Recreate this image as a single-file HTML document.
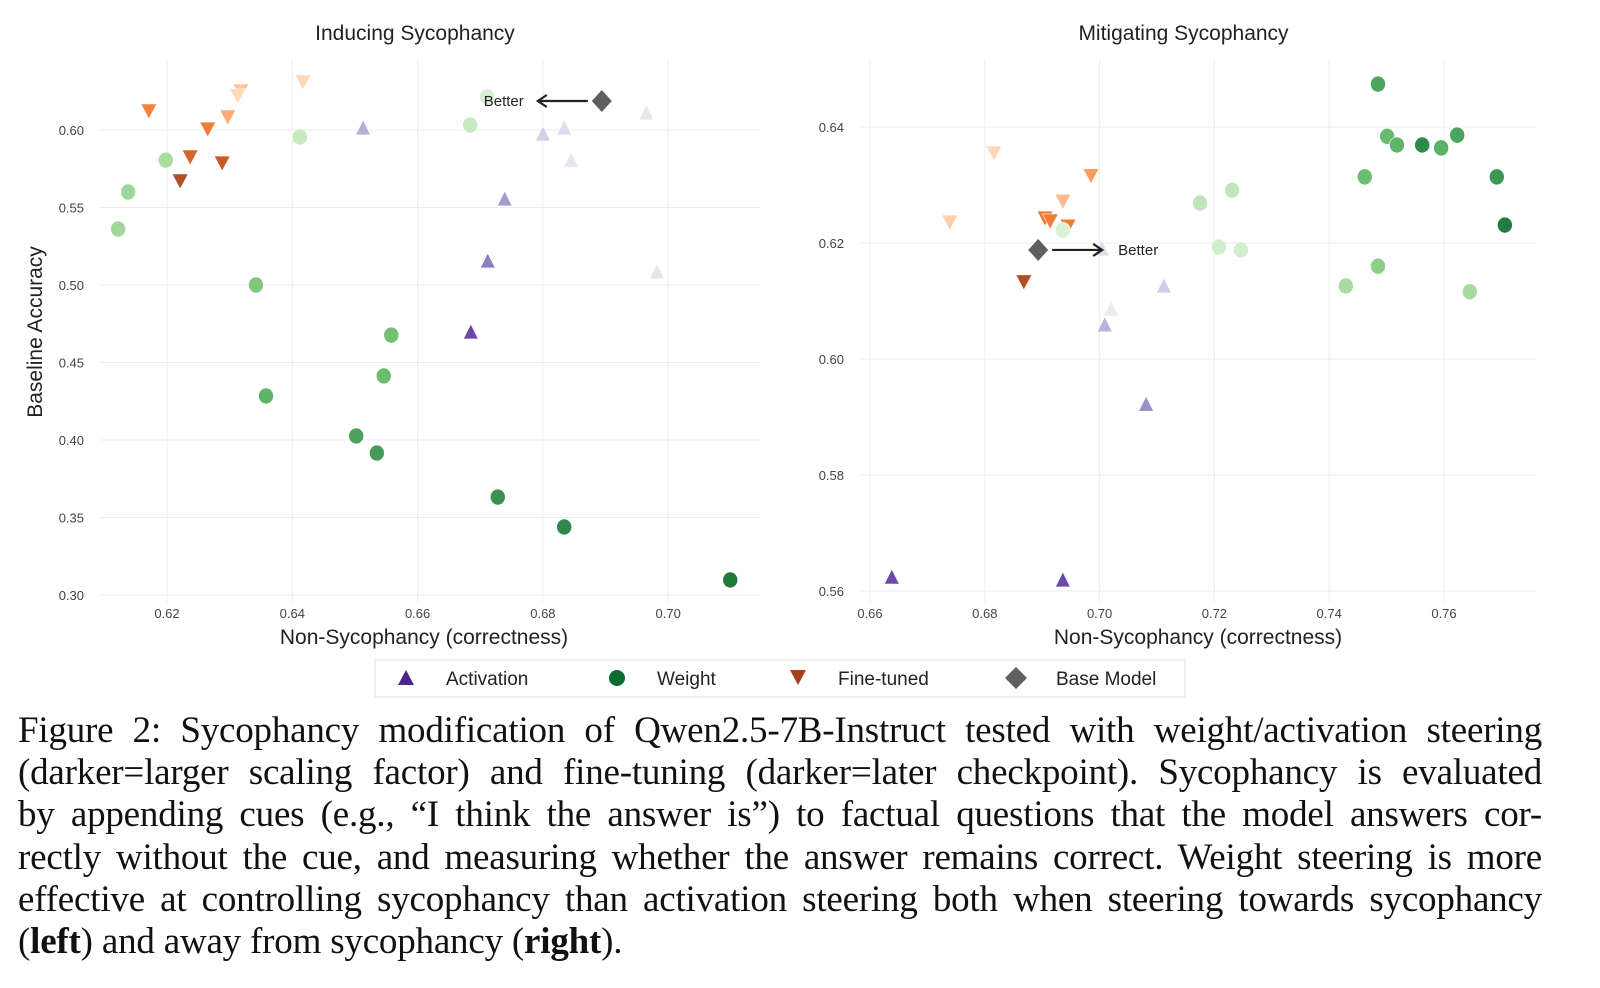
<!DOCTYPE html>
<html><head><meta charset="utf-8">
<style>
body{margin:0;background:#fff;width:1600px;height:988px;overflow:hidden;font-family:"Liberation Sans",sans-serif}
#cap{position:absolute;left:18px;top:710px;width:1524px;font-family:"Liberation Serif",serif;font-size:37px;line-height:42.2px;color:#111;letter-spacing:-0.2px}
#cap div{text-align:justify;text-align-last:justify;white-space:nowrap}
#cap div.last{text-align-last:left}
svg{position:absolute;left:0;top:0}
</style></head><body>
<svg id="chart" width="1600" height="705" xmlns="http://www.w3.org/2000/svg" font-family="Liberation Sans, sans-serif"></svg>
<div id="cap">
<div>Figure 2: Sycophancy modification of Qwen2.5-7B-Instruct tested with weight/activation steering</div>
<div>(darker=larger scaling factor) and fine-tuning (darker=later checkpoint). Sycophancy is evaluated</div>
<div>by appending cues (e.g., “I think the answer is”) to factual questions that the model answers cor-</div>
<div>rectly without the cue, and measuring whether the answer remains correct. Weight steering is more</div>
<div>effective at controlling sycophancy than activation steering both when steering towards sycophancy</div>
<div class="last">(<b>left</b>) and away from sycophancy (<b>right</b>).</div>
</div>
<script>
// Left panel data
const leftWeight=[[0.6711,0.6213,'#d5efd0'],[0.6684,0.6032,'#c7e9c0'],[0.6412,0.5955,'#c7e9c0'],[0.6198,0.5806,'#a8dca0'],[0.6138,0.56,'#9fd69a'],[0.6122,0.5361,'#9fd69a'],[0.6342,0.5,'#7fc77e'],[0.6558,0.4677,'#72c070'],[0.6546,0.4413,'#6dbd6e'],[0.6358,0.4284,'#5fb46a'],[0.6502,0.4026,'#4ba25e'],[0.6535,0.3916,'#449c58'],[0.6728,0.3632,'#3a924f'],[0.6834,0.3439,'#2f8847'],[0.7099,0.3097,'#1f7a3c']];
const leftFine=[[0.6417,0.631,'#fdd9b8'],[0.6318,0.6252,'#fdc69b'],[0.6313,0.622,'#fdd9b8'],[0.6297,0.6084,'#fdab72'],[0.6171,0.6123,'#f4823c'],[0.6265,0.6006,'#ef7b36'],[0.6237,0.5826,'#d9642a'],[0.6288,0.5787,'#c85a27'],[0.6221,0.5671,'#b04f25']];
const leftAct=[[0.6513,0.6013,'#b5b0d8'],[0.6965,0.611,'#e8e8ec'],[0.68,0.5974,'#cfd0ea'],[0.6834,0.6013,'#dcdcee'],[0.6845,0.5806,'#e6e6ee'],[0.6739,0.5555,'#a39ccf'],[0.6982,0.5084,'#e4e4ee'],[0.6712,0.5155,'#8c7fc0'],[0.6685,0.4697,'#6a4aa8']];
const leftBase=[0.6894,0.6187];
const leftXTicks=[0.62,0.64,0.66,0.68,0.70];
const leftYTicks=[0.30,0.35,0.40,0.45,0.50,0.55,0.60];
// Right panel data
const rightWeight=[[0.7485,0.6474,'#4aa660'],[0.7501,0.6384,'#68ba6c'],[0.7518,0.6369,'#5fb466'],[0.7562,0.6369,'#2e8b4a'],[0.7595,0.6364,'#5ab264'],[0.7623,0.6386,'#4aa35f'],[0.7462,0.6314,'#6cbd6f'],[0.7692,0.6314,'#3a9854'],[0.7706,0.6231,'#237b40'],[0.7485,0.616,'#8ccf88'],[0.7429,0.6126,'#a7dba0'],[0.7645,0.6116,'#a7dba0'],[0.7231,0.6291,'#c2e5bb'],[0.7175,0.6269,'#c2e5bb'],[0.7208,0.6193,'#d2edcb'],[0.7246,0.6188,'#d2edcb'],[0.6936,0.6222,'#dcf0d7']];
const rightFine=[[0.6816,0.6355,'#fdd9b8'],[0.6739,0.6236,'#fdd0ad'],[0.6985,0.6316,'#fd9e5e'],[0.6936,0.6272,'#fdbb8d'],[0.6905,0.6243,'#f0762e'],[0.6914,0.6238,'#ef7b36'],[0.6945,0.6229,'#f07a32'],[0.6868,0.6133,'#b04f25']];
const rightAct=[[0.7004,0.619,'#dcdcee'],[0.7020,0.6086,'#ebebee'],[0.7009,0.6059,'#b8b3d8'],[0.7112,0.6126,'#ccccec'],[0.7081,0.5922,'#9a93cc'],[0.6638,0.5624,'#6a4aa8'],[0.6936,0.5619,'#6a4aa8']];
const rightBase=[0.6893,0.6188];
const rightXTicks=[0.66,0.68,0.70,0.72,0.74,0.76];
const rightYTicks=[0.56,0.58,0.60,0.62,0.64];

const svg=document.getElementById('chart');
const NS='http://www.w3.org/2000/svg';
function mk(tag,attrs,parent){const e=document.createElementNS(NS,tag);for(const k in attrs)e.setAttribute(k,attrs[k]);(parent||svg).appendChild(e);return e;}
function txt(s,attrs,parent){const e=mk('text',attrs,parent);e.textContent=s;return e;}

function panel(o){
  const g=mk('g',{});
  
  
  const X=v=>o.x0+(v-o.xv0)/o.xd*o.xs;
  const Y=v=>o.y0-(v-o.yv0)/o.yd*o.ys;
  o.xt.forEach(t=>{const l=mk('line',{x1:X(t),x2:X(t),y1:60,y2:602,stroke:'#ececec','stroke-width':1},g);
    const tt=txt(t.toFixed(2),{x:X(t),y:618,'font-size':13,'text-anchor':'middle',fill:'#444'},g);});
  o.yt.forEach(t=>{const l=mk('line',{x1:o.left,x2:o.right,y1:Y(t),y2:Y(t),stroke:'#ececec','stroke-width':1},g);
    const tt=txt(t.toFixed(2),{x:o.left-16,y:Y(t)+5,'font-size':13,'text-anchor':'end',fill:'#444'},g);});
  const ti=txt(o.title,{x:(o.left+o.right)/2-15,y:40,'font-size':21,'text-anchor':'middle',fill:'#222'},g);
  const xl=txt('Non-Sycophancy (correctness)',{x:o.xlx,y:644,'font-size':21,'text-anchor':'middle',fill:'#222'},g);
  o.fine.forEach(p=>{const x=X(p[0]),y=Y(p[1]);const m=mk('polygon',{points:`${x-8},${y-7} ${x+8},${y-7} ${x},${y+8}`,fill:p[2],stroke:'#fff','stroke-width':0.6},g);});
  o.act.forEach(p=>{const x=X(p[0]),y=Y(p[1]);const m=mk('polygon',{points:`${x-7.5},${y+7} ${x+7.5},${y+7} ${x},${y-8}`,fill:p[2],stroke:'#fff','stroke-width':0.6},g);});
  o.w.forEach(p=>{const m=mk('ellipse',{cx:X(p[0]),cy:Y(p[1]),rx:7.5,ry:8,fill:p[2],stroke:'#fff','stroke-width':0.6},g);});
  const bx=X(o.base[0]),by=Y(o.base[1]);
  const d=mk('polygon',{points:`${bx},${by-11} ${bx+10},${by} ${bx},${by+11} ${bx-10},${by}`,fill:'#5f5f5f'},g);
  const dir=o.dir, ax0=bx+dir*14, ax1=bx+dir*64;
  const a=mk('path',{d:`M${ax0},${by} L${ax1},${by} M${ax1-dir*9},${by-6} L${ax1},${by} L${ax1-dir*9},${by+6}`,stroke:'#222','stroke-width':2.2,fill:'none'},g);
  const bt=txt('Better',{x:dir<0?ax1-14:ax1+16,y:by+5,'font-size':15,'text-anchor':dir<0?'end':'start',fill:'#222'},g);
}
panel({name:'left-panel',title:'Inducing Sycophancy',left:100,right:760,x0:167,xv0:0.62,xd:0.02,xs:125.3,y0:595,yv0:0.30,yd:0.05,ys:77.5,xt:leftXTicks,yt:leftYTicks,w:leftWeight,fine:leftFine,act:leftAct,base:leftBase,dir:-1,xlx:424});
panel({name:'right-panel',title:'Mitigating Sycophancy',left:860,right:1537,x0:870,xv0:0.66,xd:0.02,xs:114.8,y0:591,yv0:0.56,yd:0.02,ys:116,xt:rightXTicks,yt:rightYTicks,w:rightWeight,fine:rightFine,act:rightAct,base:rightBase,dir:1,xlx:1198});
const yl=txt('Baseline Accuracy',{x:0,y:0,'font-size':21,'text-anchor':'middle',fill:'#222',transform:'translate(42,332) rotate(-90)'});


// legend
const lg=mk('g',{});


mk('rect',{x:375,y:660,width:810,height:37,fill:'#fff',stroke:'#ddd','stroke-width':1},lg);
const e1=mk('polygon',{points:'398,685 414,685 406,670',fill:'#4b2590'},lg);
const t1=txt('Activation',{x:446,y:685,'font-size':19,fill:'#222'},lg);
const e2=mk('circle',{cx:617,cy:678,r:8,fill:'#0b6b2e'},lg);
const t2=txt('Weight',{x:657,y:685,'font-size':19,fill:'#222'},lg);
const e3=mk('polygon',{points:'790,670 806,670 798,685',fill:'#a6401a'},lg);
const t3=txt('Fine-tuned',{x:838,y:685,'font-size':19,fill:'#222'},lg);
const e4=mk('polygon',{points:'1016,667 1027,678 1016,689 1005,678',fill:'#5f5f5f'},lg);
const t4=txt('Base Model',{x:1056,y:685,'font-size':19,fill:'#222'},lg);
</script>
</body></html>
